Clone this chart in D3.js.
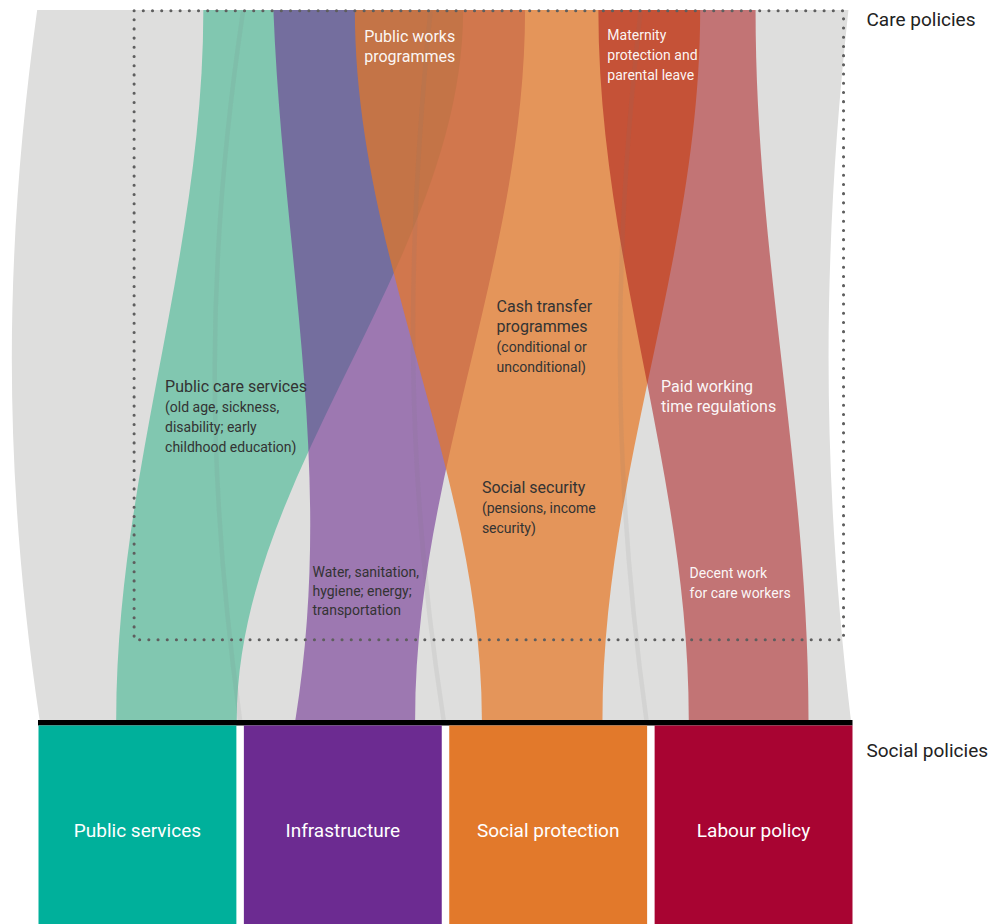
<!DOCTYPE html>
<html>
<head>
<meta charset="utf-8">
<script src="https://cdn.jsdelivr.net/npm/d3@7"></script>
<style>
  body { margin: 0; background: #fff; }
  svg { display: block; font-family: Roboto, "Noto Sans", sans-serif; }
</style>
</head>
<body>
<svg id="chart" width="990" height="924"></svg>
<script>
// social policies along the bottom
const socialPolicies = ["Public services", "Infrastructure", "Social protection", "Labour policy"];

// where each social policy's flow meets the care policy line (top) and its own block (bottom), 0-100 scale
const flowTop = [[20.3, 52.2], [28.9, 59.8], [38.9, 81.3], [68.8, 88.1]];
const flowBottom = [[9.6, 24.4], [31.6, 46.3], [54.5, 69.3], [79.9, 94.6]];
// infrastructure's left edge bows out before it lands
const flowLeftBend = [null, [30.1, 36.5], null, null];

// the grey "everything else" band behind the flows
const otherTop = [-0.1, 99.5];
const otherBottom = [0.2, 99.8];
const otherBend = [[-4.3, -4.3], [96.2, 96.2]];

// faint seams between policy groups: top, bend, bottom
const seams = [[25.2, 20.6, 24.8], [48.2, 45.1, 49.8], [74.0, 70.5, 74.7]];

// care policy labels
const careLabels = [
    {title: ["Public works", "programmes"], note: []},
    {title: [], note: ["Maternity", "protection and", "parental leave"]},
    {title: ["Cash transfer", "programmes"], note: ["(conditional or", "unconditional)"]},
    {title: ["Public care services"], note: ["(old age, sickness,", "disability; early", "childhood education)"]},
    {title: ["Paid working", "time regulations"], note: []},
    {title: ["Social security"], note: ["(pensions, income", "security)"]},
    {title: [], note: ["Water, sanitation,", "hygiene; energy;", "transportation"]},
    {title: [], note: ["Decent work", "for care workers"]}
];
// label anchor [x on 0-100, y as share of height, line height, white text]
const careLabelPos = [
    [40.05, 0.963, 20, true],
    [69.9, 0.965, 20, true],
    [56.3, 0.582, 20, false],
    [15.6, 0.470, 20.3, false],
    [76.5, 0.470, 20, true],
    [54.5, 0.327, 20, false],
    [33.7, 0.208, 19, false],
    [80.0, 0.207, 20, true]
];

const flowColor = ["#42b893", "#6c2b91", "#e77622", "#aa1718"];
const flowOpacity = [0.6, 0.57, 0.7, 0.53];
const blockColor = ["#00b09b", "#6c2b91", "#e2792b", "#a80432"];

const svg = d3.select("#chart");

let x = d3.scaleLinear().domain([0, 100]).range([38, 852.5]);
let y = d3.scaleLinear().domain([0, 1]).range([720, 10]);
let band = d3.scaleBand().domain(socialPolicies).range([38.5, 852.5]).paddingInner(0.0365).paddingOuter(0);

const yTop = y(1), yBot = y(0), yC1 = y(0.65), yC2 = y(0.35);

// edge = [top, c1, c2, bottom]
function ribbon(L, R) {
    let p = d3.path();
    p.moveTo(x(L[0]), yTop);
    p.bezierCurveTo(x(L[1]), yC1, x(L[2]), yC2, x(L[3]), yBot);
    p.lineTo(x(R[3]), yBot);
    p.bezierCurveTo(x(R[2]), yC2, x(R[1]), yC1, x(R[0]), yTop);
    p.closePath();
    return p.toString();
}

// grey band
svg.append("path")
    .attr("d", ribbon(
        [otherTop[0], otherBend[0][0], otherBend[0][1], otherBottom[0]],
        [otherTop[1], otherBend[1][0], otherBend[1][1], otherBottom[1]]))
    .attr("fill", "#dededd");

// coloured flows
let flows = socialPolicies.map((d, i) => {
    let bend = flowLeftBend[i] || [flowTop[i][0], flowBottom[i][0]];
    return {
        name: d,
        L: [flowTop[i][0], bend[0], bend[1], flowBottom[i][0]],
        R: [flowTop[i][1], flowTop[i][1], flowBottom[i][1], flowBottom[i][1]],
        i: i
    };
});

svg.append("g").selectAll("path")
    .data(flows)
    .join("path")
    .attr("d", d => ribbon(d.L, d.R))
    .attr("fill", d => flowColor[d.i])
    .attr("fill-opacity", d => flowOpacity[d.i]);

// seams
svg.append("g").selectAll("path")
    .data(seams)
    .join("path")
    .attr("d", d => {
        let p = d3.path();
        p.moveTo(x(d[0]), yTop);
        p.bezierCurveTo(x(d[1]), yC1, x(d[1]), yC2, x(d[2]), yBot);
        return p.toString();
    })
    .attr("fill", "none")
    .attr("stroke", "#7a7a7a")
    .attr("stroke-opacity", 0.1)
    .attr("stroke-width", 4.5);

// dotted care policy box
svg.append("rect")
    .attr("x", x(11.8))
    .attr("y", y(1) + 0.7)
    .attr("width", x(98.9) - x(11.8))
    .attr("height", y(0.113) - y(1) - 0.7)
    .attr("fill", "none")
    .attr("stroke", "#5e5e5e")
    .attr("stroke-width", 3.1)
    .attr("stroke-linecap", "round")
    .attr("stroke-dasharray", "0 9.2");

// care labels
careLabels.forEach((lab, i) => {
    let pos = careLabelPos[i];
    let lines = lab.title.map(t => ({t: t, size: 16})).concat(lab.note.map(t => ({t: t, size: 14})));
    let txt = svg.append("text")
        .attr("fill", pos[3] ? "#ffffff" : "#333333")
        .attr("fill-opacity", pos[3] ? 0.96 : 1);
    lines.forEach((ln, j) => {
        txt.append("tspan")
            .attr("x", x(pos[0]))
            .attr("y", y(pos[1]) + j * pos[2])
            .attr("dy", "0.35em")
            .attr("font-size", ln.size)
            .text(ln.t);
    });
});

// baseline and social policy blocks
svg.append("rect")
    .attr("x", x(0))
    .attr("y", yBot)
    .attr("width", x(100) - x(0))
    .attr("height", 5.5)
    .attr("fill", "#000");

let blocks = svg.append("g").selectAll("g")
    .data(socialPolicies)
    .join("g");

blocks.append("rect")
    .attr("x", d => band(d))
    .attr("y", yBot + 5.5)
    .attr("width", band.bandwidth())
    .attr("height", 924 - yBot - 5.5)
    .attr("fill", (d, i) => blockColor[i]);

blocks.append("text")
    .attr("x", d => band(d) + band.bandwidth() / 2)
    .attr("y", 830)
    .attr("dy", "0.35em")
    .attr("text-anchor", "middle")
    .attr("font-size", 19)
    .attr("fill", "#fff")
    .text(d => d);

// row titles
svg.append("text")
    .attr("x", x(100) + 14)
    .attr("y", yTop + 9)
    .attr("dy", "0.35em")
    .attr("font-size", 19)
    .attr("fill", "#222")
    .text("Care policies");

svg.append("text")
    .attr("x", x(100) + 14)
    .attr("y", 750)
    .attr("dy", "0.35em")
    .attr("font-size", 19)
    .attr("fill", "#222")
    .text("Social policies");
</script>
</body>
</html>
